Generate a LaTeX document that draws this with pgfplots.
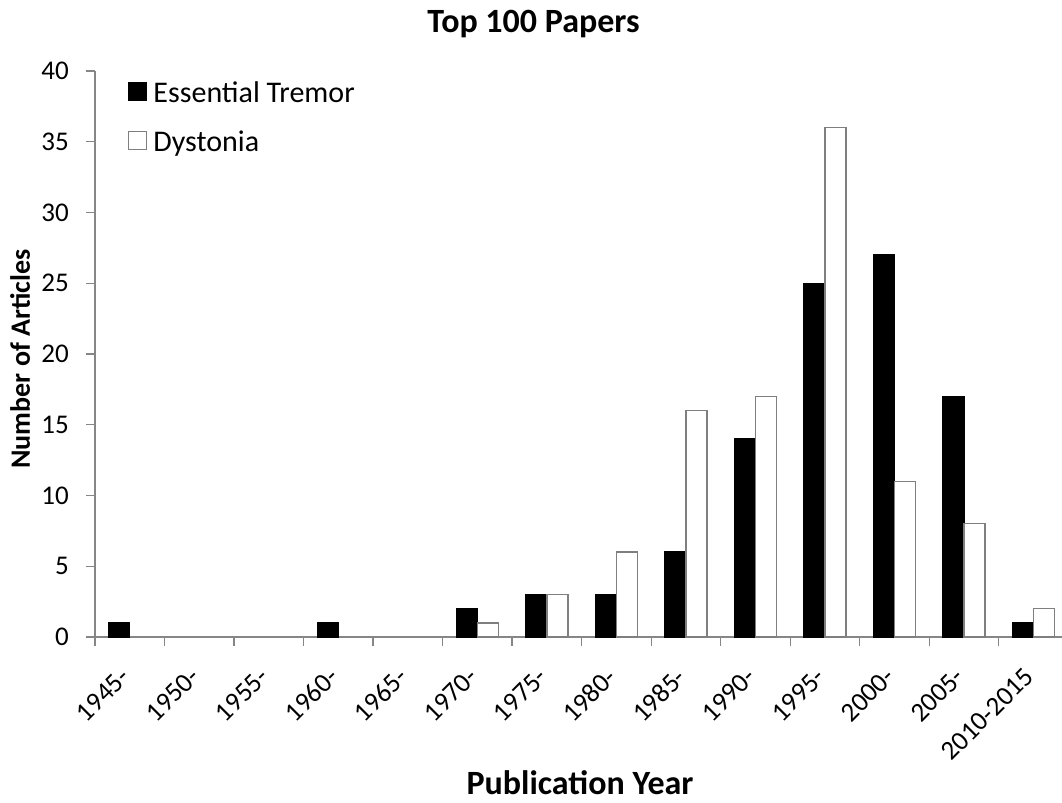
\documentclass[border=0pt]{standalone}
\usepackage{fontspec}
\setmainfont{Carlito}
\usepackage{graphicx}
\usepackage{pgfplots}
\usepackage{pgfplotstable}
\pgfplotsset{compat=1.18}
\definecolor{axgray}{HTML}{868686}
\definecolor{edgegray}{HTML}{7F7F7F}
\newcommand{\rl}[1]{\rotatebox{45}{#1}}
\pgfplotstableread{
x et dys
0 1 0
1 0 0
2 0 0
3 1 0
4 0 0
5 2 1
6 3 3
7 3 6
8 6 16
9 14 17
10 25 36
11 27 11
12 17 8
13 1 2
}\datatable
\begin{document}
\begin{tikzpicture}
\path[use as bounding box] (-95bp,-166bp) rectangle (967bp,637bp);
\begin{axis}[
  at={(0,0)}, anchor=south west, scale only axis,
  width=967bp, height=566bp,
  xmin=-0.5, xmax=13.41, ymin=0, ymax=40,
  axis x line=bottom, axis y line=left,
  axis line style={axgray, line width=1.3bp, -},
  ybar=0pt, bar width=21bp,
  xtick={0,...,13},
  xticklabels={\rl{1945-},\rl{1950-},\rl{1955-},\rl{1960-},\rl{1965-},\rl{1970-},\rl{1975-},\rl{1980-},\rl{1985-},\rl{1990-},\rl{1995-},\rl{2000-},\rl{2005-},\rl{2010-2015}},
  minor xtick={-0.5,0.5,...,12.5},
  major x tick style={draw=none},
  minor x tick style={axgray, line width=1.3bp},
  y tick style={axgray, line width=1.3bp},
  tick align=outside,
  major tick length=9bp, minor tick length=9bp,
  ytick={0,5,...,40},
  /pgf/number format/assume math mode=true,
  tick label style={font=\fontsize{27bp}{31bp}\selectfont},
  xticklabel style={anchor=north east, inner sep=0pt, xshift=2bp, yshift=-20bp},
  yticklabel style={anchor=east, inner sep=0pt, xshift=-17bp},
  legend style={draw=none, fill=none, at={(axis description cs:0.0341,0.981)}, anchor=north west,
    inner sep=0pt, row sep=23bp,
    nodes={inner sep=0pt, text height=19bp, text depth=6bp, font=\fontsize{30bp}{36bp}\selectfont},
    /tikz/every odd column/.style={column sep=6bp}},
  legend cell align=left,
  legend image code/.code={\draw[#1, line width=1.3bp] (0bp,-5bp) rectangle (18bp,13bp);},
]
\addplot[fill=black, draw=black, line width=1.3bp, restrict y to domain=0.5:100] table[x=x, y=et] {\datatable};
\addlegendentry{Essential Tremor}
\addplot[fill=white, draw=edgegray, line width=1.3bp, restrict y to domain=0.5:100] table[x=x, y=dys] {\datatable};
\addlegendentry{Dystonia}
\end{axis}
\node[font=\fontsize{34bp}{40bp}\selectfont\bfseries, anchor=base] at (438.5bp,604bp) {Top 100 Papers};
\node[font=\fontsize{34bp}{40bp}\selectfont\bfseries, anchor=base] at (485bp,-157bp) {Publication Year};
\node[font=\fontsize{28bp}{34bp}\selectfont\bfseries, anchor=base, rotate=90] at (-65bp,278bp) {Number of Articles};
\end{tikzpicture}
\end{document}
